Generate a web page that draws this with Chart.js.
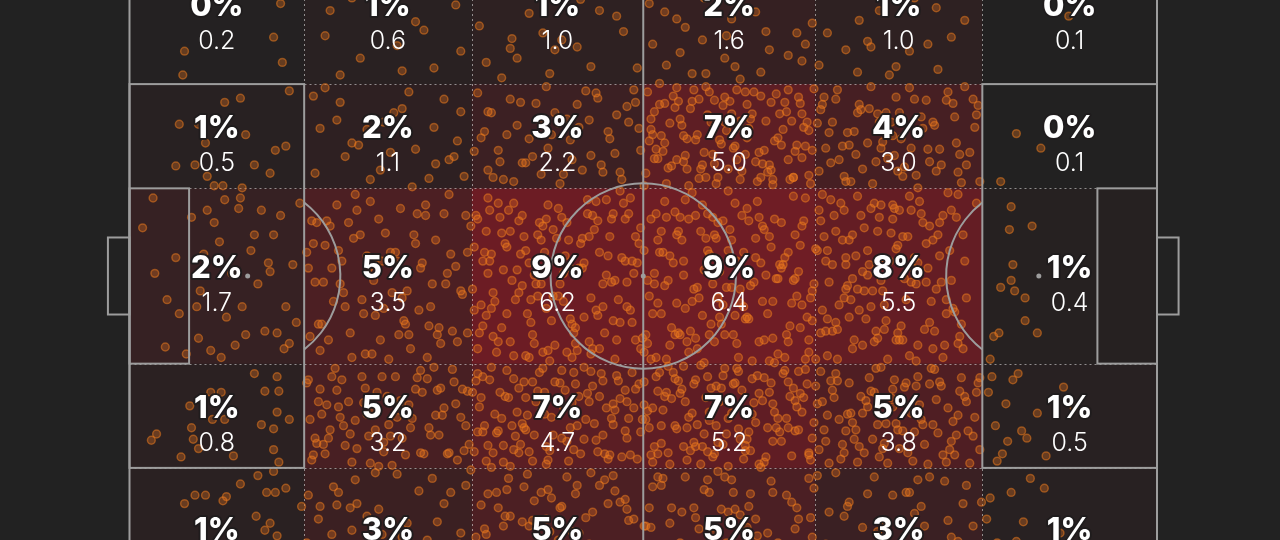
<!DOCTYPE html>
<html><head><meta charset="utf-8">
<script src="https://cdn.jsdelivr.net/npm/chart.js@4.4.0/dist/chart.umd.min.js"></script>
<style>
html,body{margin:0;padding:0;background:#222222;overflow:hidden;width:1280px;height:540px;}
#wrap{position:absolute;left:0;top:-56px;width:1280px;height:680px;}
</style></head><body>
<div id="wrap"><canvas id="c" width="1280" height="680"></canvas></div>
<script>
// Zone edges (Opta 0-100 pitch coordinates)
const xEdges = [0, 17, 33.3, 50, 66.7, 83, 100];
const yEdges = [0, 21.1, 36.8, 63.2, 78.9, 100];

// Zone values (rows top -> bottom, columns left -> right)
const valuesRow0 = [0.2, 0.6, 1.0, 1.6, 1.0, 0.1];
const valuesRow1 = [0.5, 1.1, 2.2, 5.0, 3.0, 0.1];
const valuesRow2 = [1.7, 3.5, 6.2, 6.4, 5.5, 0.4];
const valuesRow3 = [0.8, 3.2, 4.7, 5.2, 3.8, 0.5];
const valuesRow4 = [0.7, 2.1, 3.5, 3.4, 2.0, 0.5];

const pctRow0 = ['0%','1%','1%','2%','1%','0%'];
const pctRow1 = ['1%','2%','3%','7%','4%','0%'];
const pctRow2 = ['2%','5%','9%','9%','8%','1%'];
const pctRow3 = ['1%','5%','7%','7%','5%','1%'];
const pctRow4 = ['1%','3%','5%','5%','3%','1%'];

// Event locations inside each zone, "uuvv" = position within zone in percent
const pointsRow0 = [
"3176 3093 8266 8784 8642 5020",
"1265 3381 5572 7788 9043 2193 4430 6655 8026 1547 3712 5890 7161 9376 2838 6319",
"0884 2367 4592 6173 8451 9688 1132 3349 5526 7714 9207 0458 2681 4875 6339 8862 1795 3521 5268 7447 9931 0616 2274 4163 6987 8208",
"0571 1386 2459 3692 4217 5834 6548 7375 8963 9129 0342 1715 2892 3468 4781 5153 6226 7607 8479 9856 0999 1248 2635 3911 4526 5387 6891 7162 8734 9471 0624 1953 2177 3538 4865 5696 6413 7724 8318 9283",
"0763 1428 2591 3847 4235 5676 6112 7389 8954 9521 0286 1875 2654 3169 4493 5938 6771 7245 8517 9802 0417 1634 3373 4887 6928 8166",
"4951 2025 7215"
];
const pointsRow1 = [
"9106 5417 6313 2838 3938 4356 6648 8363 8959 2678 3777 4488 7177 8085 4897 5397 6499",
"0511 1934 3258 4582 6207 7741 8969 9326 0685 2117 3743 5165 6498 7876 9154 0942 2469 3991 5327 6662 8314 9588 1203 4736 5823 7490 8672 2856",
"0308 0745 0982 1127 1563 1891 2214 2639 2975 3352 3718 4086 4461 4827 5195 5533 5872 6241 6606 6968 7313 7684 8052 8429 8791 9136 9517 9863 0551 0926 1289 1674 2048 2493 2817 3175 3569 3934 4302 4648 5037 5386 5753 6119 6482 6834 7208 7577 7945 8366 8684 9021 9405 9742 0164",
"0207 1164 2239 3381 4115 5472 6328 7596 8143 9270 0548 1822 2697 3053 4736 5261 6889 7417 8635 9904 0871 1395 2016 3729 4453 5907 6142 7284 8958 9536 0433 1678 2552 3214 4981 5635 6407 7063 8789 9118 0762 1049 2816 3477 4295 5128 6693 7851 8326 9687 0185 1537 2374 3936 4620 5783 6051 7709 8472 9341 0919 1256 2723 3602 4067 5359 6976 7135 8864 9459 0626 1903 2468 3148 4844 5016 6574 7928 8217 9795 0354 1711 2905 3565 4389 5844 6233 7482 8058 9012 0097 1480 2133 3807 4557 5691 6765 7377 8591 9863 0671 1218 2581 3290 4712 5405 6019 7654 8405 9228 0443 1972 2349 3689 4176 5967 6811 7591 8789 9644",
"0512 1788 2345 3961 4227 5603 6874 7139 8456 9720 0283 1036 2619 3495 4768 5152 6331 7907 8584 9265 0846 1472 2193 3728 4055 5379 6615 7283 8902 9541 0137 1659 2881 3302 4536 5914 6087 7462 8218 9893 0975 1214 2527 3156 4649 5288 6762 7036 8331 9077 0324 1893 2058 3674 4371 5761 6442 7815 8667 9414 0661 1305 2724 3836 4983 5027 6199 7577 8794 9629 0419 1946 2467 3223 4812",
"1947 3361 1093"
];
const pointsRow2 = [
"0722 1448 2163 2871 3516 3985 4237 4692 5130 5573 5848 6211 6467 6935 7354 7781 8226 8615 8967 9343 9708 1305 2639 3294 4058 4819 5406 6089 6683 7126 7512 8047 8482 8891 9188 9576 3867 5296 6305 7942 2090 4412",
"0418 1153 2782 3326 4641 5097 6869 7215 8548 9736 0877 1521 2035 3694 4272 5436 6158 7983 8314 9460 0245 1909 2467 3112 4825 5683 6391 7654 8079 9187 0653 1318 2896 3571 4094 5862 6526 7042 8737 9921 0136 1764 2241 3845 4417 5259 6714 7396 8603 9358 0992 1486 2619 3003 4768 5541 6077 7829 8188 9615 0531 1077 2359 3738 4152 5975 6283 7567 8454 9044 0384 1645 2928 3463 4586 5136 6945 7209 8881 9782 0719 1232 2154 3907 4339 5711 6631 7478",
"0133 1587 2224 3861 4409 5745 6192 7318 8676 9053 0678 1012 2759 3476 4193 5348 6827 7091 8214 9527 0391 1846 2563 3135 4928 5061 6445 7782 8917 9269 0824 1259 2071 3688 4317 5593 6714 7436 8352 9891 0057 1493 2915 3342 4675 5216 6088 7654 8739 9114 0566 1168 2408 3919 4054 5877 6331 7207 8486 9642 0948 1725 2287 3583 4761 5438 6962 7015 8153 9376 0215 1364 2646 3027 4492 5982 6573 7849 8808 9731 0736 1931 2112 3754 4236 5629 6245 7491 8027 9985 0482 1041 2837 3271 4889 5154 6706 7372 8601 9448 0169 1616 2352 3463 4121 5774 6887 7938 8275 9205 0905 1284 2495 3826 4598 5011 6428 7123 8941 9586 0317 1779 2033 3195 4723 5364 6079 7667 8397 9822 0641 1508 2955 3649 4368 5896 6542 7269 8117 9067 0872 1137 2718 3396 4029 5519 6994 7806 8563 9341",
"0252 1679 2116 3837 4473 5308 6921 7564 8045 9693 0714 1024 2587 3262 4935 5657 6174 7398 8826 9132 0497 1883 2341 3015 4618 5974 6539 7271 8487 9858 0035 1316 2864 3599 4187 5441 6716 7943 8239 9405 0829 1538 2082 3735 4362 5156 6073 7617 8961 9573 0361 1207 2693 3472 4054 5867 6398 7086 8704 9221 0648 1965 2406 3156 4783 5023 6842 7751 8383 9047 0183 1452 2957 3883 4228 5596 6255 7433 8143 9762 0936 1071 2229 3324 4577 5715 6607 7894 8578 9318 0571 1742 2781 3628 4901 5283 6118 7149 8851 9954 0093 1255 2468 3977 4319 5488 6964 7327 8019 9686 0796 1813 2024 3191 4666 5836 6453 7585 8665 9179 0417 1589 2617 3714 4126 5129 6787 7023 8296 9497 0865 1136 2349 3546 4856 5665 6011 7699 8436 9875 0288 1926 2802 3085 4447 5372 6528 7851 8752 9266 0654 1397 2183 3409 4016",
"0318 1762 2504 3149 4886 5227 6653 7091 8370 0735 0469 1115 2291 3587 4043 5712 6964 7438 8826 1380 0097 1843 2669 3311 4525 5086 6207 7789 8152 2958 0641 1276 2029 3952 4397 5463 6821 7615 8503 3724 0853 1508 2386 3074 4711 5939 6142 7257 8684 4180 0212 1629 2847 3458 4166 5351 6580 7902 8035 5695 0774 1081 2163 3816 4932 5604 6419 7326 8891 6054 0527 1397 2715 3243 4058 5178 6876 7553 8268 7871 0135 1955 2438 3681 4609 5845 6314 7029 8777 0403 0906 1224 2073 3508 4275 5527 6098 7181 8416 1839 0382 1712 2922 3135 4834 5012 6745 7863 8941 2251 0681 1466 2557 3785 4441 5286 6631 7419 8112 9062 0034 1857 2226 3367 4982 5753 6189 7696 8588 9608 0795 1043 2889 3909 4617",
"1610 2821 1523 1743 1652 1056 1858 2462 2475 0684 0982 3182 0497"
];
const pointsRow3 = [
"7109 8412 7726 8526 5227 4627 3440 8446 9153 7558 8262 3561 4753 5453 1567 1273 3672 3981 8282 5988 2989 8594",
"0215 1177 2636 3412 4784 5058 6361 7925 8249 9583 0492 1804 2151 3869 4327 5640 6713 7186 8917 9038 0836 1339 2478 3054 4612 5297 6985 7461 8123 9726 0118 1563 2894 3623 4046 5871 6239 7703 8586 9351 0671 1048 2215 3748 4931 5412 6087 7568 8805 9192 0353 1925 2767 3181 4498 5735 6624 7027 8342 9877 0924 1286 2041 3537 4263 5169 6452 7849 8685 9424 0587 1612 2359 3995 4775 5551 6906 7314 8068 9659 0776 1471",
"0441 1894 2132 3517 4768 5206 6653 7384 8925 9071 0027 1348 2785 3163 4492 5837 6019 7616 8258 9442 0665 1103 2569 3908 4227 5574 6386 7842 8087 9719 0309 1752 2414 3061 4935 5341 6728 7157 8633 9287 0893 1285 2877 3736 4104 5982 6231 7509 8411 9865 0184 1627 2006 3384 4651 5118 6907 7273 8789 9524 0532 1466 2298 3826 4379 5693 6044 7991 8152 9036 0759 1015 2646 3249 4817 5425 6572 7668 8964 9308 0216 1931 2359 3593 4045 5761 6159 7021 8344 9691 0978 1199 2723 3132 4583 5271 6836 7431 8516 9953 0365 1564 2957 3668 4248 0612 1878 2482 3017 4396 5908 6503 7786 8238 9152",
"0153 1708 2379 3846 4221 5562 6935 7094 8417 9685 0826 1231 2592 3015 4677 5983 6348 7761 8109 9332 0361 1859 2016 3479 4952 5147 6283 7538 8864 9007 0594 1076 2847 3301 4436 5725 6611 7189 8352 9871 0039 1485 2224 3632 4089 5318 6796 7965 8531 9246 0712 1633 2919 3158 4867 5404 6072 7327 8688 9519 0487 1962 2651 3784 4259 5891 6437 7013 8941 9063 0908 1144 2128 3567 4611 5036 6899 7646 8206 9792 0245 1327 2436 3923 4704 5672 6165 7418 8074 9405 0679 1596 2783 3079 4375 5219 6556 7852 8723 9128 0017 1814 2302 3396 4523 5978 6728 7261 8461 9956 0542 1059 2975 3712 4186 5507 6314 7574 8835 9687 0886 1402 2561 3854 4998",
"0563 1209 2847 3326 4715 5081 6458 7942 8174 9627 0138 1785 2372 3604 4257 5893 6021 7366 8549 9813 0916 1453 2018 3889 4532 5264 6796 7105 8931 9295 0307 1677 2594 3141 4963 5418 6239 7687 8082 9551 0749 1025 2256 3472 4081 5747 6904 7521 8387 9036 0282 1948 2731 3035 4624 5136 6577 7894 8713 9469 0674 1316 2463 3758 4395 5965 6112 7234 8255 9882 0021 1591 2985 3213 4857 5585 6353 7058 8626 9164 0895 1132 2679 3527 4176 5322 6819 7417 8468 9718 0436 1864 2147 3903 4641",
"0512 1338 0759 2264 1186 3147 0893 2571 4622 1715 0327 3688 5241 2009 1474"
];
const pointsRow4 = [
"7305 6311 8202 8914 7817 8317 3719 4319 5520 5323 3125 9827 7234 8039 7744 8448 2362 5574 7081 3388 6595 1669 4277 8591",
"0219 1647 2383 3125 4872 5504 6261 7938 8717 9346 0836 1091 2728 3562 4203 5849 6475 7184 8063 9612 0153 1385 2017 3734 4591 5238 6816 7492 8325 9901 0584 1926 2463 3291 4647 5072 6139 7607 8956 9254 0378 1713 2844 3008 4429 5666 6988 7351 8592 9071 0927 1255",
"0162 1528 2795 3341 4017 5672 6903 7256 8481 9137 0743 1086 2234 3869 4415 5128 6571 7708 8922 9593 0395 1841 2661 3013 4758 5384 6246 7925 8067 9784 0918 1295 2107 3537 4283 5845 6635 7412 8316 9029 0526 1662 2938 3204 4897 5051 6112 7573 8758 9436 0084 1417 2369 3782 4163 5506 6854 7031 8205 9865 0671 1934 2472 3623 4545 5227 6377 7695 8872 9258 0249 1078 2583 3951 4336 5793 6018 7864 8624 9681 0847 1356 2015 3178 4621",
"0328 1774 2153 3586 4931 5217 6648 7409 8062 9735 0685 1012 2897 3243 4474 5856 6127 7961 8319 9268 0041 1539 2406 3817 4185 5633 6964 7072 8755 9491 0974 1286 2662 3035 4529 5108 6381 7664 8843 9036 0513 1893 2231 3708 4302 5981 6536 7246 8183 9607 0267 1455 2928 3391 4853 5472 6795 7853 8476 9172 0806 1107 2564 3962 4047 5329 6218 7517 8928 9849 0141 1628 2379 3515 4706 5685 6042 7388 8624 9914 0442 1961",
"0477 1203 2659 3118 4386 5932 6541 7064 8825 9297 0831 1568 2024 3745 4152 5417 6806 7383 8149 9668 0105 1927 2391 3262 4973 5083 6327 7709 8486 9924 0654 1371 2842 3506 4619 5264 6108 7937 8552 9012 0296 1734 2465 3881 4238 5617 6765 7176 8384 9441",
"0421 1617 0853 2338 1194 3072 0565 2789 4446 1952 0236 3514 5861 2707"
];

const zoneValues = [valuesRow0, valuesRow1, valuesRow2, valuesRow3, valuesRow4];
const zonePct = [pctRow0, pctRow1, pctRow2, pctRow3, pctRow4];
const zonePoints = [pointsRow0, pointsRow1, pointsRow2, pointsRow3, pointsRow4];
const maxValue = 6.4;

const dots = [];
zonePoints.forEach((row, r) => row.forEach((s, c) => {
  const x0 = xEdges[c], x1 = xEdges[c + 1], y0 = yEdges[r], y1 = yEdges[r + 1];
  s.trim().split(/\s+/).forEach(g => {
    const u = +g.slice(0, 2), v = +g.slice(2, 4);
    dots.push({ x: x0 + (u + 0.5) / 100 * (x1 - x0), y: y0 + (v + 0.5) / 100 * (y1 - y0) });
  });
}));

const LINE = '#9d9d9d';

const pitchPlugin = {
  id: 'pitch',
  beforeDatasetsDraw(chart) {
    const { ctx, scales: { x, y } } = chart;
    const px = v => x.getPixelForValue(v), py = v => y.getPixelForValue(v);
    ctx.save();
    for (let r = 0; r < 5; r++) {
      for (let c = 0; c < 6; c++) {
        const a = zoneValues[r][c] / maxValue * 0.55;
        ctx.fillStyle = `rgba(175,25,40,${a.toFixed(3)})`;
        const X0 = px(xEdges[c]), X1 = px(xEdges[c + 1]);
        const Y0 = py(yEdges[r]), Y1 = py(yEdges[r + 1]);
        ctx.fillRect(X0, Y0, X1 - X0, Y1 - Y0);
      }
    }
    ctx.strokeStyle = 'rgba(215,215,215,0.6)';
    ctx.lineWidth = 1;
    ctx.setLineDash([2, 3]);
    for (let i = 1; i < xEdges.length - 1; i++) {
      const X = Math.round(px(xEdges[i])) + 0.5;
      ctx.beginPath(); ctx.moveTo(X, py(0)); ctx.lineTo(X, py(100)); ctx.stroke();
    }
    for (let j = 1; j < yEdges.length - 1; j++) {
      const Y = Math.round(py(yEdges[j])) + 0.5;
      ctx.beginPath(); ctx.moveTo(px(0), Y); ctx.lineTo(px(100), Y); ctx.stroke();
    }
    ctx.restore();
  },
  afterDatasetsDraw(chart) {
    const { ctx, scales: { x, y } } = chart;
    const px = v => x.getPixelForValue(v), py = v => y.getPixelForValue(v);
    ctx.save();
    ctx.strokeStyle = LINE;
    ctx.lineWidth = 2;
    const rect = (a, b, c, d) => { ctx.strokeRect(px(a), py(b), px(c) - px(a), py(d) - py(b)); };
    rect(0, 0, 100, 100);
    ctx.beginPath(); ctx.moveTo(px(50), py(0)); ctx.lineTo(px(50), py(100)); ctx.stroke();
    rect(0, 21.1, 17, 78.9);
    rect(83, 21.1, 100, 78.9);
    rect(0, 36.8, 5.8, 63.2);
    rect(94.2, 36.8, 100, 63.2);
    rect(-2.1, 44.2, 0, 55.8);
    rect(100, 44.2, 102.1, 55.8);
    const R = px(9.02) - px(0);
    ctx.beginPath(); ctx.arc(px(50), py(50), R, 0, Math.PI * 2); ctx.stroke();
    const t = Math.acos((px(17) - px(11.5)) / R);
    ctx.beginPath(); ctx.arc(px(11.5), py(50), R, -t, t); ctx.stroke();
    ctx.beginPath(); ctx.arc(px(88.5), py(50), R, Math.PI - t, Math.PI + t); ctx.stroke();
    ctx.fillStyle = LINE;
    [[50, 50], [11.5, 50], [88.5, 50]].forEach(([a, b]) => {
      ctx.beginPath(); ctx.arc(px(a), py(b), 2.5, 0, Math.PI * 2); ctx.fill();
    });
    // labels
    ctx.textAlign = 'center';
    ctx.textBaseline = 'alphabetic';
    ctx.lineJoin = 'round';
    for (let r = 0; r < 5; r++) {
      for (let c = 0; c < 6; c++) {
        const cx = (px(xEdges[c]) + px(xEdges[c + 1])) / 2;
        const cy = (py(yEdges[r]) + py(yEdges[r + 1])) / 2;
        ctx.font = '800 31px Inter';
        ctx.lineWidth = 4;
        ctx.strokeStyle = 'rgba(32,28,30,0.95)';
        ctx.strokeText(zonePct[r][c], cx, cy + 2);
        ctx.fillStyle = '#ffffff';
        ctx.fillText(zonePct[r][c], cx, cy + 2);
        ctx.font = '300 25px Inter';
        ctx.fillText(zoneValues[r][c].toFixed(1), cx, cy + 35);
      }
    }
    ctx.restore();
  }
};

new Chart(document.getElementById('c'), {
  type: 'scatter',
  data: {
    datasets: [{
      data: dots,
      pointRadius: 3.9,
      pointHoverRadius: 3.9,
      backgroundColor: 'rgba(235,118,30,0.32)',
      borderColor: 'rgba(240,125,30,0.5)',
      borderWidth: 1.5,
      clip: false
    }]
  },
  options: {
    responsive: false,
    devicePixelRatio: 1,
    animation: false,
    layout: { autoPadding: false, padding: { left: 129.5, right: 123, top: 0, bottom: 16 } },
    scales: {
      x: { type: 'linear', min: 0, max: 100, display: false },
      y: { type: 'linear', min: 0, max: 100, reverse: true, display: false }
    },
    plugins: { legend: { display: false }, tooltip: { enabled: false } },
    events: []
  },
  plugins: [pitchPlugin]
});
</script>
</body></html>
